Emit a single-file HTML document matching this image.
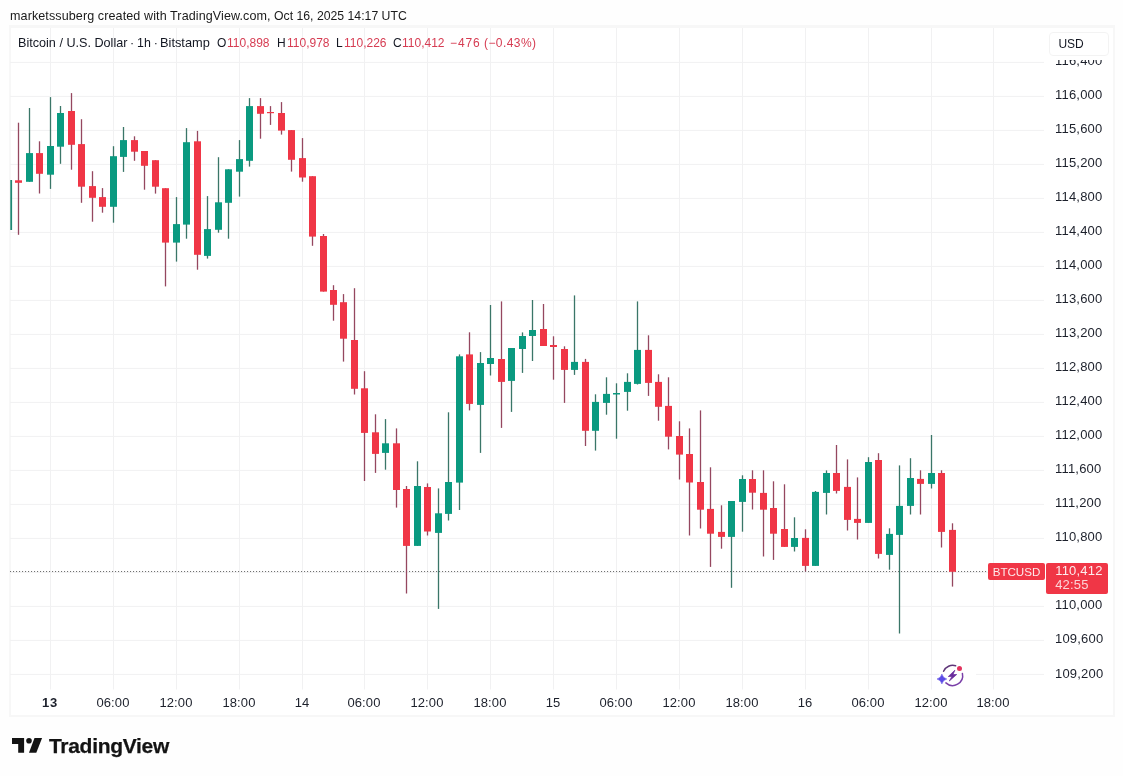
<!DOCTYPE html>
<html><head><meta charset="utf-8">
<style>
html,body{margin:0;padding:0;}
body{width:1123px;height:776px;background:#fefefe;position:relative;overflow:hidden;font-family:"Liberation Sans",sans-serif;color:#131722;}
.abs{position:absolute;white-space:nowrap;}
.abs,.yl,.xl,.lg{will-change:transform;}
.hdr{top:7.7px;font-size:12.55px;line-height:16px;color:#1a1a1a;letter-spacing:0.1px;}
#chart{position:absolute;left:0;top:0;width:1123px;height:776px;}
#frame{position:absolute;left:9px;top:25px;width:1105.5px;height:691.5px;border:2px solid #f7f7f7;border-top-width:3.5px;box-sizing:border-box;background:#ffffff;}
.lg{position:absolute;top:35px;font-size:12px;line-height:16px;white-space:nowrap;}
.lg.v{color:#d63c52;}
.yl{position:absolute;left:1055.2px;width:60px;font-size:13px;line-height:19px;height:19px;color:#1c202b;white-space:nowrap;letter-spacing:0.2px;}
.xl{position:absolute;top:693px;width:60px;text-align:center;font-size:13px;line-height:19px;color:#1c202b;white-space:nowrap;letter-spacing:0.12px;}
.xl.b{font-weight:bold;letter-spacing:0.7px;margin-left:0.6px;}
#usd{left:1048.5px;top:31.5px;width:60px;height:24px;box-sizing:border-box;border:1px solid #f3f3f3;border-radius:4px;background:#fff;font-size:12px;line-height:22px;padding-left:8.4px;}
#sym{left:988px;top:562.5px;width:57px;height:17px;background:#f03646;border-radius:2px;color:#fde9eb;font-size:11.6px;line-height:18.6px;text-align:center;}
#plab{left:1046px;top:562.5px;width:62px;height:31px;background:#f03646;border-radius:2px;color:#fff;font-size:13px;}
#plab div{position:absolute;left:9.2px;white-space:nowrap;line-height:14px;letter-spacing:0.2px;}
#logo{left:12px;top:735px;}
#logotext{left:48.6px;top:732.5px;font-size:21px;font-weight:bold;line-height:26px;letter-spacing:-0.3px;color:#131313;-webkit-text-stroke:0.25px #131313;}
</style></head><body>
<div id="frame"></div>
<svg id="chart" width="1123" height="776" viewBox="0 0 1123 776">
<rect x="10" y="61.90" width="1034" height="1" fill="#f1f1f2"/>
<rect x="10" y="95.90" width="1034" height="1" fill="#f1f1f2"/>
<rect x="10" y="129.90" width="1034" height="1" fill="#f1f1f2"/>
<rect x="10" y="163.90" width="1034" height="1" fill="#f1f1f2"/>
<rect x="10" y="197.90" width="1034" height="1" fill="#f1f1f2"/>
<rect x="10" y="231.90" width="1034" height="1" fill="#f1f1f2"/>
<rect x="10" y="265.90" width="1034" height="1" fill="#f1f1f2"/>
<rect x="10" y="299.90" width="1034" height="1" fill="#f1f1f2"/>
<rect x="10" y="333.90" width="1034" height="1" fill="#f1f1f2"/>
<rect x="10" y="367.90" width="1034" height="1" fill="#f1f1f2"/>
<rect x="10" y="401.90" width="1034" height="1" fill="#f1f1f2"/>
<rect x="10" y="435.90" width="1034" height="1" fill="#f1f1f2"/>
<rect x="10" y="469.90" width="1034" height="1" fill="#f1f1f2"/>
<rect x="10" y="503.90" width="1034" height="1" fill="#f1f1f2"/>
<rect x="10" y="537.90" width="1034" height="1" fill="#f1f1f2"/>
<rect x="10" y="571.90" width="1034" height="1" fill="#f1f1f2"/>
<rect x="10" y="605.90" width="1034" height="1" fill="#f1f1f2"/>
<rect x="10" y="639.90" width="1034" height="1" fill="#f1f1f2"/>
<rect x="10" y="673.90" width="1034" height="1" fill="#f1f1f2"/>
<rect x="50.00" y="28" width="1" height="661.5" fill="#f1f1f2"/>
<rect x="113.00" y="28" width="1" height="661.5" fill="#f1f1f2"/>
<rect x="176.00" y="28" width="1" height="661.5" fill="#f1f1f2"/>
<rect x="239.00" y="28" width="1" height="661.5" fill="#f1f1f2"/>
<rect x="302.00" y="28" width="1" height="661.5" fill="#f1f1f2"/>
<rect x="364.00" y="28" width="1" height="661.5" fill="#f1f1f2"/>
<rect x="427.00" y="28" width="1" height="661.5" fill="#f1f1f2"/>
<rect x="490.00" y="28" width="1" height="661.5" fill="#f1f1f2"/>
<rect x="553.00" y="28" width="1" height="661.5" fill="#f1f1f2"/>
<rect x="616.00" y="28" width="1" height="661.5" fill="#f1f1f2"/>
<rect x="679.00" y="28" width="1" height="661.5" fill="#f1f1f2"/>
<rect x="742.00" y="28" width="1" height="661.5" fill="#f1f1f2"/>
<rect x="805.00" y="28" width="1" height="661.5" fill="#f1f1f2"/>
<rect x="868.00" y="28" width="1" height="661.5" fill="#f1f1f2"/>
<rect x="931.00" y="28" width="1" height="661.5" fill="#f1f1f2"/>
<rect x="993.00" y="28" width="1" height="661.5" fill="#f1f1f2"/>
<line x1="10" y1="571.5" x2="988" y2="571.5" stroke="#707070" stroke-width="1.1" stroke-dasharray="1.1 1.9"/>
<rect x="10.3" y="180" width="1.8" height="50" fill="#1f8773"/>
<rect x="17.85" y="122.7" width="1.3" height="112.1" fill="#95475f"/>
<rect x="15.00" y="180.3" width="7" height="2.5" fill="#f03646"/>
<rect x="28.85" y="108.0" width="1.3" height="73.8" fill="#3a7668"/>
<rect x="26.00" y="153.1" width="7" height="28.7" fill="#0a9a80"/>
<rect x="38.85" y="141.3" width="1.3" height="52.2" fill="#95475f"/>
<rect x="36.00" y="153.1" width="7" height="20.7" fill="#f03646"/>
<rect x="49.85" y="97.1" width="1.3" height="91.8" fill="#3a7668"/>
<rect x="47.00" y="146.0" width="7" height="28.7" fill="#0a9a80"/>
<rect x="59.85" y="106.0" width="1.3" height="57.8" fill="#3a7668"/>
<rect x="57.00" y="113.0" width="7" height="33.7" fill="#0a9a80"/>
<rect x="70.85" y="93.1" width="1.3" height="76.6" fill="#95475f"/>
<rect x="68.00" y="111.0" width="7" height="33.8" fill="#f03646"/>
<rect x="80.85" y="119.2" width="1.3" height="83.6" fill="#95475f"/>
<rect x="78.00" y="144.1" width="7" height="42.6" fill="#f03646"/>
<rect x="91.85" y="171.2" width="1.3" height="50.5" fill="#95475f"/>
<rect x="89.00" y="186.1" width="7" height="11.7" fill="#f03646"/>
<rect x="101.85" y="188.1" width="1.3" height="24.6" fill="#95475f"/>
<rect x="99.00" y="197.1" width="7" height="9.7" fill="#f03646"/>
<rect x="112.85" y="146.2" width="1.3" height="76.5" fill="#3a7668"/>
<rect x="110.00" y="156.2" width="7" height="50.6" fill="#0a9a80"/>
<rect x="122.85" y="127.0" width="1.3" height="44.9" fill="#3a7668"/>
<rect x="120.00" y="140.1" width="7" height="16.8" fill="#0a9a80"/>
<rect x="133.85" y="136.3" width="1.3" height="24.5" fill="#95475f"/>
<rect x="131.00" y="140.1" width="7" height="11.6" fill="#f03646"/>
<rect x="143.85" y="151.0" width="1.3" height="38.7" fill="#95475f"/>
<rect x="141.00" y="151.0" width="7" height="14.8" fill="#f03646"/>
<rect x="154.85" y="160.2" width="1.3" height="33.4" fill="#95475f"/>
<rect x="152.00" y="160.2" width="7" height="26.5" fill="#f03646"/>
<rect x="164.85" y="188.2" width="1.3" height="98.2" fill="#95475f"/>
<rect x="162.00" y="188.2" width="7" height="54.4" fill="#f03646"/>
<rect x="175.85" y="197.1" width="1.3" height="64.5" fill="#3a7668"/>
<rect x="173.00" y="224.1" width="7" height="18.5" fill="#0a9a80"/>
<rect x="185.85" y="128.1" width="1.3" height="110.6" fill="#3a7668"/>
<rect x="183.00" y="142.2" width="7" height="82.4" fill="#0a9a80"/>
<rect x="196.85" y="130.9" width="1.3" height="138.8" fill="#95475f"/>
<rect x="194.00" y="141.3" width="7" height="113.5" fill="#f03646"/>
<rect x="206.85" y="196.1" width="1.3" height="62.5" fill="#3a7668"/>
<rect x="204.00" y="229.1" width="7" height="26.8" fill="#0a9a80"/>
<rect x="217.85" y="157.2" width="1.3" height="75.5" fill="#3a7668"/>
<rect x="215.00" y="202.3" width="7" height="27.5" fill="#0a9a80"/>
<rect x="227.85" y="169.3" width="1.3" height="69.4" fill="#3a7668"/>
<rect x="225.00" y="169.3" width="7" height="33.5" fill="#0a9a80"/>
<rect x="238.85" y="140.1" width="1.3" height="56.5" fill="#3a7668"/>
<rect x="236.00" y="159.1" width="7" height="12.6" fill="#0a9a80"/>
<rect x="248.85" y="98.1" width="1.3" height="68.5" fill="#3a7668"/>
<rect x="246.00" y="106.1" width="7" height="54.7" fill="#0a9a80"/>
<rect x="259.85" y="98.1" width="1.3" height="40.6" fill="#95475f"/>
<rect x="257.00" y="106.1" width="7" height="7.7" fill="#f03646"/>
<rect x="269.85" y="106.1" width="1.3" height="18.8" fill="#95475f"/>
<rect x="267.00" y="112.0" width="7" height="1.2" fill="#f03646"/>
<rect x="280.85" y="102.1" width="1.3" height="32.5" fill="#95475f"/>
<rect x="278.00" y="113.0" width="7" height="17.6" fill="#f03646"/>
<rect x="290.85" y="130.1" width="1.3" height="41.5" fill="#95475f"/>
<rect x="288.00" y="130.1" width="7" height="29.7" fill="#f03646"/>
<rect x="301.85" y="138.1" width="1.3" height="43.6" fill="#95475f"/>
<rect x="299.00" y="158.1" width="7" height="19.4" fill="#f03646"/>
<rect x="311.85" y="176.2" width="1.3" height="69.6" fill="#95475f"/>
<rect x="309.00" y="176.2" width="7" height="60.4" fill="#f03646"/>
<rect x="322.85" y="234.0" width="1.3" height="57.6" fill="#95475f"/>
<rect x="320.00" y="236.0" width="7" height="55.6" fill="#f03646"/>
<rect x="332.85" y="285.2" width="1.3" height="35.5" fill="#95475f"/>
<rect x="330.00" y="290.0" width="7" height="14.8" fill="#f03646"/>
<rect x="342.85" y="294.1" width="1.3" height="67.5" fill="#95475f"/>
<rect x="340.00" y="302.2" width="7" height="36.5" fill="#f03646"/>
<rect x="353.85" y="288.2" width="1.3" height="106.3" fill="#95475f"/>
<rect x="351.00" y="340.0" width="7" height="48.8" fill="#f03646"/>
<rect x="363.85" y="371.2" width="1.3" height="109.8" fill="#95475f"/>
<rect x="361.00" y="388.3" width="7" height="44.6" fill="#f03646"/>
<rect x="374.85" y="414.3" width="1.3" height="58.6" fill="#95475f"/>
<rect x="372.00" y="432.3" width="7" height="21.6" fill="#f03646"/>
<rect x="384.85" y="419.1" width="1.3" height="50.6" fill="#3a7668"/>
<rect x="382.00" y="443.3" width="7" height="9.6" fill="#0a9a80"/>
<rect x="395.85" y="428.4" width="1.3" height="79.2" fill="#95475f"/>
<rect x="393.00" y="443.3" width="7" height="46.7" fill="#f03646"/>
<rect x="405.85" y="486.0" width="1.3" height="107.5" fill="#95475f"/>
<rect x="403.00" y="489.0" width="7" height="56.9" fill="#f03646"/>
<rect x="416.85" y="461.3" width="1.3" height="84.6" fill="#3a7668"/>
<rect x="414.00" y="486.0" width="7" height="59.9" fill="#0a9a80"/>
<rect x="426.85" y="483.4" width="1.3" height="52.1" fill="#95475f"/>
<rect x="424.00" y="487.0" width="7" height="44.5" fill="#f03646"/>
<rect x="437.85" y="488.4" width="1.3" height="120.5" fill="#3a7668"/>
<rect x="435.00" y="513.3" width="7" height="19.6" fill="#0a9a80"/>
<rect x="447.85" y="412.3" width="1.3" height="108.2" fill="#3a7668"/>
<rect x="445.00" y="482.0" width="7" height="31.9" fill="#0a9a80"/>
<rect x="458.85" y="354.4" width="1.3" height="155.6" fill="#3a7668"/>
<rect x="456.00" y="356.3" width="7" height="126.3" fill="#0a9a80"/>
<rect x="468.85" y="332.3" width="1.3" height="78.1" fill="#95475f"/>
<rect x="466.00" y="354.4" width="7" height="49.5" fill="#f03646"/>
<rect x="479.85" y="352.1" width="1.3" height="100.8" fill="#3a7668"/>
<rect x="477.00" y="363.0" width="7" height="41.9" fill="#0a9a80"/>
<rect x="489.85" y="305.0" width="1.3" height="70.5" fill="#3a7668"/>
<rect x="487.00" y="358.0" width="7" height="6.0" fill="#0a9a80"/>
<rect x="500.85" y="301.4" width="1.3" height="126.5" fill="#95475f"/>
<rect x="498.00" y="359.0" width="7" height="22.9" fill="#f03646"/>
<rect x="510.85" y="348.0" width="1.3" height="63.9" fill="#3a7668"/>
<rect x="508.00" y="348.0" width="7" height="32.9" fill="#0a9a80"/>
<rect x="521.85" y="332.4" width="1.3" height="40.5" fill="#3a7668"/>
<rect x="519.00" y="336.0" width="7" height="13.0" fill="#0a9a80"/>
<rect x="531.85" y="300.0" width="1.3" height="61.0" fill="#3a7668"/>
<rect x="529.00" y="330.0" width="7" height="6.0" fill="#0a9a80"/>
<rect x="542.85" y="304.0" width="1.3" height="42.0" fill="#95475f"/>
<rect x="540.00" y="329.0" width="7" height="17.0" fill="#f03646"/>
<rect x="552.85" y="336.3" width="1.3" height="43.4" fill="#95475f"/>
<rect x="550.00" y="345.0" width="7" height="2.0" fill="#f03646"/>
<rect x="563.85" y="346.3" width="1.3" height="56.6" fill="#95475f"/>
<rect x="561.00" y="349.0" width="7" height="20.9" fill="#f03646"/>
<rect x="573.85" y="295.4" width="1.3" height="79.5" fill="#3a7668"/>
<rect x="571.00" y="361.9" width="7" height="8.0" fill="#0a9a80"/>
<rect x="584.85" y="358.9" width="1.3" height="87.1" fill="#95475f"/>
<rect x="582.00" y="361.9" width="7" height="68.9" fill="#f03646"/>
<rect x="594.85" y="394.3" width="1.3" height="56.3" fill="#3a7668"/>
<rect x="592.00" y="401.9" width="7" height="28.9" fill="#0a9a80"/>
<rect x="605.85" y="377.3" width="1.3" height="37.4" fill="#3a7668"/>
<rect x="603.00" y="393.9" width="7" height="9.0" fill="#0a9a80"/>
<rect x="615.85" y="383.3" width="1.3" height="55.4" fill="#3a7668"/>
<rect x="613.00" y="393.0" width="7" height="1.5" fill="#0a9a80"/>
<rect x="626.85" y="373.3" width="1.3" height="37.4" fill="#3a7668"/>
<rect x="624.00" y="381.9" width="7" height="10.0" fill="#0a9a80"/>
<rect x="636.85" y="301.4" width="1.3" height="83.1" fill="#3a7668"/>
<rect x="634.00" y="349.9" width="7" height="34.0" fill="#0a9a80"/>
<rect x="647.85" y="335.3" width="1.3" height="60.6" fill="#95475f"/>
<rect x="645.00" y="349.9" width="7" height="33.0" fill="#f03646"/>
<rect x="657.85" y="374.3" width="1.3" height="46.4" fill="#95475f"/>
<rect x="655.00" y="381.9" width="7" height="24.9" fill="#f03646"/>
<rect x="667.85" y="377.3" width="1.3" height="72.1" fill="#95475f"/>
<rect x="665.00" y="405.9" width="7" height="30.8" fill="#f03646"/>
<rect x="678.85" y="421.3" width="1.3" height="58.2" fill="#95475f"/>
<rect x="676.00" y="436.0" width="7" height="18.6" fill="#f03646"/>
<rect x="688.85" y="428.4" width="1.3" height="107.1" fill="#95475f"/>
<rect x="686.00" y="454.0" width="7" height="28.5" fill="#f03646"/>
<rect x="699.85" y="410.4" width="1.3" height="118.1" fill="#95475f"/>
<rect x="697.00" y="482.0" width="7" height="27.7" fill="#f03646"/>
<rect x="709.85" y="467.3" width="1.3" height="99.6" fill="#95475f"/>
<rect x="707.00" y="508.9" width="7" height="24.8" fill="#f03646"/>
<rect x="720.85" y="505.3" width="1.3" height="43.4" fill="#95475f"/>
<rect x="718.00" y="531.9" width="7" height="5.0" fill="#f03646"/>
<rect x="730.85" y="501.0" width="1.3" height="86.8" fill="#3a7668"/>
<rect x="728.00" y="501.0" width="7" height="35.9" fill="#0a9a80"/>
<rect x="741.85" y="475.3" width="1.3" height="56.4" fill="#3a7668"/>
<rect x="739.00" y="479.0" width="7" height="22.9" fill="#0a9a80"/>
<rect x="751.85" y="470.3" width="1.3" height="39.2" fill="#95475f"/>
<rect x="749.00" y="479.0" width="7" height="13.7" fill="#f03646"/>
<rect x="762.85" y="470.3" width="1.3" height="86.2" fill="#95475f"/>
<rect x="760.00" y="492.9" width="7" height="16.8" fill="#f03646"/>
<rect x="772.85" y="481.3" width="1.3" height="78.6" fill="#95475f"/>
<rect x="770.00" y="508.0" width="7" height="25.7" fill="#f03646"/>
<rect x="783.85" y="484.3" width="1.3" height="62.6" fill="#95475f"/>
<rect x="781.00" y="529.0" width="7" height="17.9" fill="#f03646"/>
<rect x="793.85" y="517.3" width="1.3" height="34.2" fill="#3a7668"/>
<rect x="791.00" y="538.0" width="7" height="8.9" fill="#0a9a80"/>
<rect x="804.85" y="529.3" width="1.3" height="42.2" fill="#95475f"/>
<rect x="802.00" y="537.9" width="7" height="28.0" fill="#f03646"/>
<rect x="814.85" y="491.0" width="1.3" height="74.9" fill="#3a7668"/>
<rect x="812.00" y="491.9" width="7" height="74.0" fill="#0a9a80"/>
<rect x="825.85" y="470.4" width="1.3" height="44.1" fill="#3a7668"/>
<rect x="823.00" y="473.0" width="7" height="19.9" fill="#0a9a80"/>
<rect x="835.85" y="445.0" width="1.3" height="48.5" fill="#95475f"/>
<rect x="833.00" y="473.0" width="7" height="17.9" fill="#f03646"/>
<rect x="846.85" y="459.4" width="1.3" height="71.1" fill="#95475f"/>
<rect x="844.00" y="486.9" width="7" height="33.0" fill="#f03646"/>
<rect x="856.85" y="477.4" width="1.3" height="62.1" fill="#95475f"/>
<rect x="854.00" y="518.9" width="7" height="4.0" fill="#f03646"/>
<rect x="867.85" y="457.2" width="1.3" height="65.7" fill="#3a7668"/>
<rect x="865.00" y="462.0" width="7" height="60.9" fill="#0a9a80"/>
<rect x="877.85" y="453.2" width="1.3" height="105.3" fill="#95475f"/>
<rect x="875.00" y="460.0" width="7" height="93.9" fill="#f03646"/>
<rect x="888.85" y="528.3" width="1.3" height="41.4" fill="#3a7668"/>
<rect x="886.00" y="533.9" width="7" height="21.0" fill="#0a9a80"/>
<rect x="898.85" y="465.4" width="1.3" height="168.1" fill="#3a7668"/>
<rect x="896.00" y="505.9" width="7" height="29.0" fill="#0a9a80"/>
<rect x="909.85" y="458.2" width="1.3" height="56.3" fill="#3a7668"/>
<rect x="907.00" y="478.0" width="7" height="27.9" fill="#0a9a80"/>
<rect x="919.85" y="470.3" width="1.3" height="44.2" fill="#95475f"/>
<rect x="917.00" y="478.9" width="7" height="5.0" fill="#f03646"/>
<rect x="930.85" y="435.0" width="1.3" height="53.5" fill="#3a7668"/>
<rect x="928.00" y="473.0" width="7" height="10.9" fill="#0a9a80"/>
<rect x="940.85" y="470.3" width="1.3" height="77.2" fill="#95475f"/>
<rect x="938.00" y="473.0" width="7" height="58.9" fill="#f03646"/>
<rect x="951.85" y="523.3" width="1.3" height="63.3" fill="#95475f"/>
<rect x="949.00" y="529.9" width="7" height="41.9" fill="#f03646"/>
<!-- icon -->
<rect x="939" y="663" width="37" height="25" fill="#fff"/>
<g fill="none" stroke-linecap="round">
<path d="M943.6 671.2 A10 10 0 0 1 955.6 665.8" stroke="#5e3578" stroke-width="1.5"/>
<path d="M962.4 673.4 A10 10 0 0 1 945.9 682.9" stroke="#7a3fa8" stroke-width="1.5"/>
</g>
<circle cx="959.5" cy="668.4" r="2.5" fill="#e2335e"/>
<path d="M941.9 674.1 Q942.9 678 946.8 679 Q942.9 680 941.9 683.9 Q940.9 680 937 679 Q940.9 678 941.9 674.1Z" fill="#5b4be6" stroke="#5b4be6" stroke-width="0.5" stroke-linejoin="round"/>
<path d="M954.9 670.2 L948.3 676.5 L951.9 676.5 L949.3 681 L956.7 674.5 L953 674.5 Z" fill="#6a2c9c" stroke="#6a2c9c" stroke-width="0.7" stroke-linejoin="round"/>
</svg>
<div class="abs hdr" style="left:10px">marketssuberg created with TradingView.com,</div><div class="abs hdr" style="left:274.3px;font-size:12.25px;letter-spacing:0">Oct 16, 2025 14:17 UTC</div>
<div class="lg" style="left:17.6px;font-size:12.63px">Bitcoin / U.S. Dollar</div><div class="lg" style="left:129.5px;font-size:12.4px;word-spacing:-0.5px">· 1h ·</div><div class="lg" style="left:159.9px;font-size:12.8px">Bitstamp</div>
<div class="lg" style="left:217px">O</div><div class="lg v" style="left:227.2px">110,898</div>
<div class="lg" style="left:277px">H</div><div class="lg v" style="left:286.6px">110,978</div>
<div class="lg" style="left:336.3px">L</div><div class="lg v" style="left:343.7px">110,226</div>
<div class="lg" style="left:393.4px">C</div><div class="lg v" style="left:402px">110,412</div>
<div class="lg v" style="left:450.3px;letter-spacing:0.9px">−476</div><div class="lg v" style="left:484px;letter-spacing:0.43px">(−0.43%)</div>
<div class="yl" style="top:50.9px">116,400</div>
<div class="yl" style="top:84.9px">116,000</div>
<div class="yl" style="top:118.9px">115,600</div>
<div class="yl" style="top:152.9px">115,200</div>
<div class="yl" style="top:186.9px">114,800</div>
<div class="yl" style="top:220.9px">114,400</div>
<div class="yl" style="top:254.9px">114,000</div>
<div class="yl" style="top:288.9px">113,600</div>
<div class="yl" style="top:322.9px">113,200</div>
<div class="yl" style="top:356.9px">112,800</div>
<div class="yl" style="top:390.9px">112,400</div>
<div class="yl" style="top:424.9px">112,000</div>
<div class="yl" style="top:458.9px">111,600</div>
<div class="yl" style="top:492.9px">111,200</div>
<div class="yl" style="top:526.9px">110,800</div>
<div class="yl" style="top:594.9px">110,000</div>
<div class="yl" style="top:628.9px">109,600</div>
<div class="yl" style="top:663.9px">109,200</div>

<div class="abs" style="left:1046px;top:29px;width:65px;height:31px;background:#fff"></div>
<div id="usd" class="abs">USD</div>
<div class="xl b" style="left:19.9px">13</div>
<div class="xl" style="left:82.9px">06:00</div>
<div class="xl" style="left:145.9px">12:00</div>
<div class="xl" style="left:208.9px">18:00</div>
<div class="xl" style="left:271.9px">14</div>
<div class="xl" style="left:333.9px">06:00</div>
<div class="xl" style="left:396.9px">12:00</div>
<div class="xl" style="left:459.9px">18:00</div>
<div class="xl" style="left:522.9px">15</div>
<div class="xl" style="left:585.9px">06:00</div>
<div class="xl" style="left:648.9px">12:00</div>
<div class="xl" style="left:711.9px">18:00</div>
<div class="xl" style="left:774.9px">16</div>
<div class="xl" style="left:837.9px">06:00</div>
<div class="xl" style="left:900.9px">12:00</div>
<div class="xl" style="left:962.9px">18:00</div>

<div id="sym" class="abs">BTCUSD</div>
<div id="plab" class="abs"><div style="top:1.2px;color:#fdeced">110,412</div><div style="top:15px;opacity:.78">42:55</div></div>
<svg id="logo" class="abs" width="32" height="20" viewBox="0 0 32 20">
<path d="M0 3.1 H12.1 V17.8 H6.2 V8.9 H0 Z" fill="#131313"/>
<circle cx="17" cy="5.8" r="2.8" fill="#131313"/>
<path d="M22.5 3.1 H30.1 L24.3 17.8 H17 Z" fill="#131313"/>
</svg>
<div id="logotext" class="abs">TradingView</div>
</body></html>
